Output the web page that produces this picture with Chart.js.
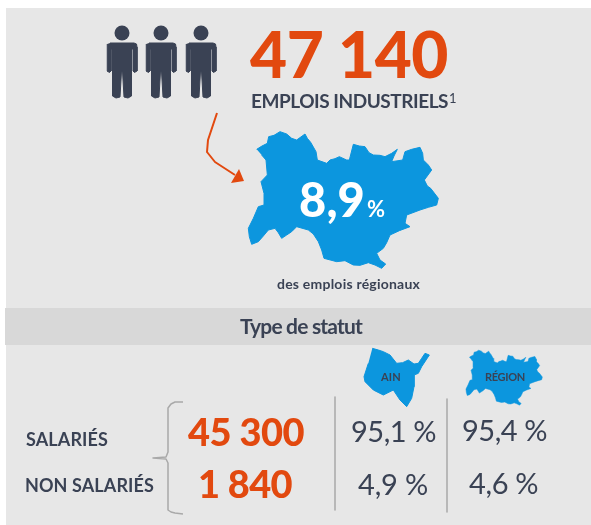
<!DOCTYPE html>
<html>
<head>
<meta charset="utf-8">
<style>
  html, body { margin: 0; padding: 0; background: #ffffff; }
  #wrap { width: 591px; height: 525px; }
</style>
<script src="https://cdn.jsdelivr.net/npm/chart.js@4"></script>
</head>
<body>
<div id="wrap"><canvas id="myViz" width="591" height="525"></canvas></div>
<script>
// values
const categories = ['SALARIÉS', 'NON SALARIÉS'];
const salaries = [45300, 1840];
const ainShare = [95.1, 4.9];
const regionShare = [95.4, 4.6];
const totalJobs = 47140;
const regionalShare = 8.9;

const ORANGE = '#E2490F';
const DARK = '#3A4254';
const BLUE = '#0C96DE';
const GREY_LINE = '#A9A9A9';

// outlines, traced in the picture
const regionOutline = [[200,118],[216,108],[232,100],[236,80],[252,76],[270,65],[290,72],[305,85],[320,90],[345,72],[352,85],[362,97],[378,125],[382,150],[410,160],[420,150],[435,146],[448,140],[470,150],[478,150],[490,103],[508,108],[525,110],[537,128],[550,135],[570,136],[585,140],[605,130],[622,118],[612,138],[605,155],[638,150],[645,125],[665,118],[690,112],[698,130],[700,150],[715,165],[725,180],[703,210],[712,228],[722,235],[745,265],[740,285],[715,292],[690,300],[650,315],[645,340],[660,350],[628,362],[600,375],[590,398],[580,415],[560,430],[570,450],[587,462],[575,475],[555,465],[535,458],[510,466],[490,465],[465,452],[440,455],[402,445],[395,420],[385,395],[370,372],[355,360],[320,350],[305,365],[290,375],[275,385],[265,368],[255,355],[235,360],[220,378],[205,395],[185,403],[178,380],[175,355],[190,325],[205,290],[222,285],[222,250],[213,215],[232,195],[228,150],[215,135]];
const ainOutline = [[97,25],[115,30],[130,35],[150,45],[170,70],[188,68],[205,60],[222,72],[235,70],[245,55],[255,40],[268,45],[245,80],[235,100],[222,105],[222,140],[215,175],[200,200],[180,180],[160,150],[130,165],[100,150],[75,125],[72,110],[85,70]];
const personOutline = [[-12,43],[12,43],[14.5,44],[15,47],[15,71],[12.5,72.5],[11,71],[11,49],[9.5,49],[9.5,96],[6,98],[2,97],[0.5,71],[-0.5,71],[-2,97],[-6,98],[-9.5,96],[-9.5,49],[-11,49],[-11,71],[-12.5,72.5],[-15,71],[-15,47],[-14.5,44]];
const arrowLine = [[217,113],[208,140],[207,152],[215,162],[235,175]];
const arrowHead = [[239,169],[244,181],[231,183]];
const bracketLine = [[183,402],[175,402],[171,404],[168,408],[168,452],[166,457],[153,458],[166,459],[168,463],[168,510],[171,512],[175,513],[183,514]];
const personCenters = [122, 161, 201];

const panel = [[6,8],[591,8],[591,525],[6,525]];
const band = [[5,308],[591,308],[591,345],[5,345]];

const toPoints = (list) => list.map(([x, y]) => ({ x, y }));
const mapped = (list, ox, oy, s) => list.map(([x, y]) => ({ x: ox + x * s, y: oy + y * s }));
const shape = (data, color, borderWidth) => ({
    data,
    showLine: true,
    fill: 'shape',
    backgroundColor: color,
    borderColor: color,
    borderWidth: borderWidth || 0,
    borderJoinStyle: 'round',
    pointRadius: 0,
});
const stroke = (data, color, borderWidth) => ({
    data,
    showLine: true,
    fill: false,
    borderColor: color,
    borderWidth,
    borderJoinStyle: 'round',
    pointRadius: 0,
});

const frNumber = (v) => String(v).replace(/\B(?=(\d{3})+$)/g, ' ');
const frDecimal = (v) => v.toFixed(1).replace('.', ',');

// x, baseline, width the text has to fill, font
const texts = [
    { t: frNumber(totalJobs), x: 250, y: 78, w: 198, font: '900 64px Lato', color: ORANGE },
    { t: 'EMPLOIS INDUSTRIELS', x: 251, y: 108, w: 197, font: 'bold 19px Lato', color: DARK },
    { t: '1', x: 449, y: 103, font: '13px Lato', color: DARK },
    { t: frDecimal(regionalShare), x: 299, y: 217, w: 66, font: '900 47px Lato', color: '#ffffff' },
    { t: '%', x: 367, y: 217, w: 18, font: 'bold 22px Lato', color: '#ffffff' },
    { t: 'des emplois régionaux', x: 277, y: 289, w: 143, font: 'bold 14px Lato', color: DARK },
    { t: 'Type de statut', x: 240, y: 334, w: 122, font: 'bold 21px Lato', color: DARK },
    { t: 'AIN', x: 381, y: 381, w: 20, font: 'bold 11px Lato', color: DARK },
    { t: 'RÉGION', x: 485, y: 381, w: 40, font: 'bold 11px Lato', color: DARK },
    { t: categories[0], x: 26, y: 446, w: 82, font: 'bold 18px Lato', color: DARK },
    { t: categories[1], x: 25, y: 492, w: 129, font: 'bold 18px Lato', color: DARK },
    { t: frNumber(salaries[0]), x: 188, y: 446, w: 116, font: '900 38px Lato', color: ORANGE },
    { t: frNumber(salaries[1]), x: 198, y: 498, w: 94, font: '900 38px Lato', color: ORANGE },
    { t: frDecimal(ainShare[0]) + ' %', x: 351, y: 442, w: 85, font: '29px Lato', color: DARK },
    { t: frDecimal(ainShare[1]) + ' %', x: 358, y: 495, w: 70, font: '29px Lato', color: DARK },
    { t: frDecimal(regionShare[0]) + ' %', x: 462, y: 441, w: 85, font: '29px Lato', color: DARK },
    { t: frDecimal(regionShare[1]) + ' %', x: 469, y: 494, w: 69, font: '29px Lato', color: DARK },
];

const textPlugin = {
    id: 'infoTexts',
    afterDatasetsDraw(chart) {
        const { ctx, scales } = chart;
        ctx.save();
        ctx.textAlign = 'left';
        ctx.textBaseline = 'alphabetic';
        texts.forEach((item) => {
            ctx.font = item.font;
            ctx.fillStyle = item.color;
            ctx.letterSpacing = '0px';
            if (item.w) {
                const natural = ctx.measureText(item.t).width;
                ctx.letterSpacing = ((item.w - natural) / item.t.length).toFixed(2) + 'px';
            }
            ctx.fillText(item.t, scales.x.getPixelForValue(item.x), scales.y.getPixelForValue(item.y));
        });
        ctx.restore();
    },
};

// chart.js paints the first dataset on top, so top layer comes first here
const datasets = [
    stroke([{ x: 447, y: 399 }, { x: 447, y: 512 }], GREY_LINE, 1.5),
    stroke([{ x: 335, y: 397 }, { x: 335, y: 510 }], GREY_LINE, 1.5),
    stroke(toPoints(bracketLine), GREY_LINE, 1.5),
    shape(toPoints(arrowHead), ORANGE),
    stroke(toPoints(arrowLine), ORANGE, 2),
    shape(mapped(regionOutline, 442.5, 341.5, 0.134), BLUE, 0.5),
    shape(mapped(ainOutline, 340, 340, 1 / 3), BLUE, 1),
    shape(mapped(regionOutline, 190, 110, 1 / 3), BLUE, 1),
    ...personCenters.map((cx) => shape(personOutline.map(([x, y]) => ({ x: cx + x, y })), DARK, 1)),
    // heads
    {
        data: personCenters.map((x) => ({ x, y: 33 })),
        pointRadius: 7.5,
        pointBackgroundColor: DARK,
        pointBorderWidth: 0,
        showLine: false,
    },
    shape(toPoints(band), '#D8D8D8'),
    shape(toPoints(panel), '#E7E7E7'),
];

const config = {
    type: 'scatter',
    data: { datasets },
    plugins: [textPlugin],
    options: {
        responsive: false,
        animation: false,
        layout: { padding: 0, autoPadding: false },
        scales: {
            x: { type: 'linear', display: false, min: 0, max: 591 },
            y: { type: 'linear', display: false, min: 0, max: 525, reverse: true },
        },
        plugins: {
            legend: { display: false },
            tooltip: { enabled: false },
            filler: { propagate: false },
        },
    },
};

Promise.all([document.fonts.load('bold 20px Lato'), document.fonts.load('900 20px Lato')]).finally(() => {
    new Chart(document.getElementById('myViz'), config);
});
</script>
</body>
</html>
